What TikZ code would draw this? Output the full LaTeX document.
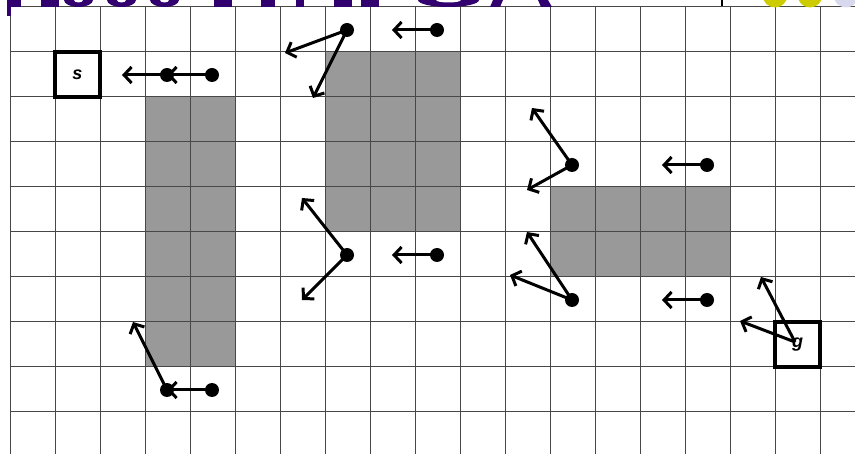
\documentclass[tikz,border=0pt]{standalone}
\usepackage{fontspec}
\setmainfont{Liberation Sans}
\usetikzlibrary{arrows.meta}
\definecolor{titlepurple}{HTML}{33006F}
\definecolor{obst}{HTML}{999999}
\definecolor{dotyellow}{HTML}{CCCC00}
\definecolor{lav}{HTML}{D8D8EE}
\tikzset{
  gridline/.style={draw=black!72, line width=1pt},
  obstacle/.style={fill=obst, draw=none},
  statebox/.style={draw=black, line width=3.2pt, minimum size=45pt, inner sep=0pt, font=\bfseries\itshape\fontsize{18}{18}\selectfont},
  statedot/.style={circle, fill=black, minimum size=14pt, inner sep=0pt},
  policy/.style={line width=3pt, -{Straight Barb[length=7.5pt,width=16pt,line width=3pt]}},
}
\begin{document}
\begin{tikzpicture}[x=1pt,y=-1pt]
\useasboundingbox (0,0) rectangle (855,454);
\fill[white] (0,0) rectangle (855,454);
% obstacles
\fill[obstacle] (145,97) rectangle (235,367);
\fill[obstacle] (325,52) rectangle (460,232);
\fill[obstacle] (550,187) rectangle (730,277);
% grid
\foreach \i in {0,...,18} { \draw[gridline] (10+45*\i,7) -- (10+45*\i,454); }
\foreach \j in {0,...,9} { \draw[gridline] (10,7+45*\j) -- (855,7+45*\j); }
% clipped title fragments
\begin{scope}[titlepurple]
  \fill (7,0) rectangle (11,16);
  \fill (11,0) rectangle (21,7);
  \fill (41,0) rectangle (59,7);
  \fill (64,0) -- (93,0) arc[start angle=0,end angle=180,x radius=14.5,y radius=7] -- cycle;
  \fill (107,0) -- (136,0) arc[start angle=0,end angle=180,x radius=14.5,y radius=7] -- cycle;
  \fill (150,0) -- (179,0) arc[start angle=0,end angle=180,x radius=14.5,y radius=7] -- cycle;
  \fill (214,0) rectangle (232,7);
  \fill (261,0) rectangle (275,7);
  \fill (296,0) rectangle (304,7);
  \fill (334,0) rectangle (352,7);
  \fill (361,0) rectangle (379,7);
  \fill (418,0) -- (479,0) arc[start angle=0,end angle=180,x radius=30.5,y radius=7] -- cycle;
  \fill (493,0) -- (503,0) -- (500,7) -- (490,7) -- cycle;
  \fill (538,0) -- (548,0) -- (552,7) -- (541,7) -- cycle;
\end{scope}
\fill[white] (74,0) -- (83,0) arc[start angle=0,end angle=180,x radius=4.5,y radius=2.5] -- cycle;
\fill[white] (117,0) -- (126,0) arc[start angle=0,end angle=180,x radius=4.5,y radius=2.5] -- cycle;
\fill[white] (160,0) -- (169,0) arc[start angle=0,end angle=180,x radius=4.5,y radius=2.5] -- cycle;
\fill[white] (436,0) -- (461,0) arc[start angle=0,end angle=180,x radius=12.5,y radius=2.5] -- cycle;
\draw[black, line width=1.5pt] (722,0) -- (722,6);
\fill[dotyellow] (775,-5) circle[radius=12.5];
\fill[dotyellow] (810,-5) circle[radius=12.5];
\fill[lav] (846,-5) circle[radius=12.5];
% start and goal
\node[statebox] (s) at (77.5,74.5) {s};
\node[statebox] (g) at (797.5,344.5) {g};
% dots
\node[statedot] (d1) at (212,75) {};
\node[statedot] (d2) at (167,75) {};
\node[statedot] (d3) at (347,30) {};
\node[statedot] (d4) at (437,30) {};
\node[statedot] (d5) at (347,255) {};
\node[statedot] (d6) at (437,255) {};
\node[statedot] (d7) at (572,165) {};
\node[statedot] (d8) at (707,165) {};
\node[statedot] (d9) at (572,300) {};
\node[statedot] (d10) at (707,300) {};
\node[statedot] (d11) at (167,390) {};
\node[statedot] (d12) at (212,390) {};
% free ends
\coordinate (e2) at (122,75);
\coordinate (e3a) at (285,53);
\coordinate (e3b) at (313,98);
\coordinate (e4) at (392,30);
\coordinate (e5a) at (302,198);
\coordinate (e5b) at (302,300);
\coordinate (e6) at (392,255);
\coordinate (e7a) at (532,108);
\coordinate (e7b) at (527,190);
\coordinate (e8) at (662,165);
\coordinate (e9a) at (527,232);
\coordinate (e9b) at (510,275);
\coordinate (e10) at (662,300);
\coordinate (e11) at (133,322);
\coordinate (gc) at (795,342);
\coordinate (ega) at (761,277);
\coordinate (egb) at (740,321);
% arrows
\draw[policy] (d1.center) -- (d2.center);
\draw[policy] (d2.center) -- (e2);
\draw[policy] (d3.center) -- (e3a);
\draw[policy] (d3.center) -- (e3b);
\draw[policy] (d4.center) -- (e4);
\draw[policy] (d5.center) -- (e5a);
\draw[policy] (d5.center) -- (e5b);
\draw[policy] (d6.center) -- (e6);
\draw[policy] (d7.center) -- (e7a);
\draw[policy] (d7.center) -- (e7b);
\draw[policy] (d8.center) -- (e8);
\draw[policy] (d9.center) -- (e9a);
\draw[policy] (d9.center) -- (e9b);
\draw[policy] (d10.center) -- (e10);
\draw[policy] (d11.center) -- (e11);
\draw[policy] (d12.center) -- (d11.center);
\draw[policy] (gc) -- (ega);
\draw[policy] (gc) -- (egb);
\end{tikzpicture}
\end{document}
